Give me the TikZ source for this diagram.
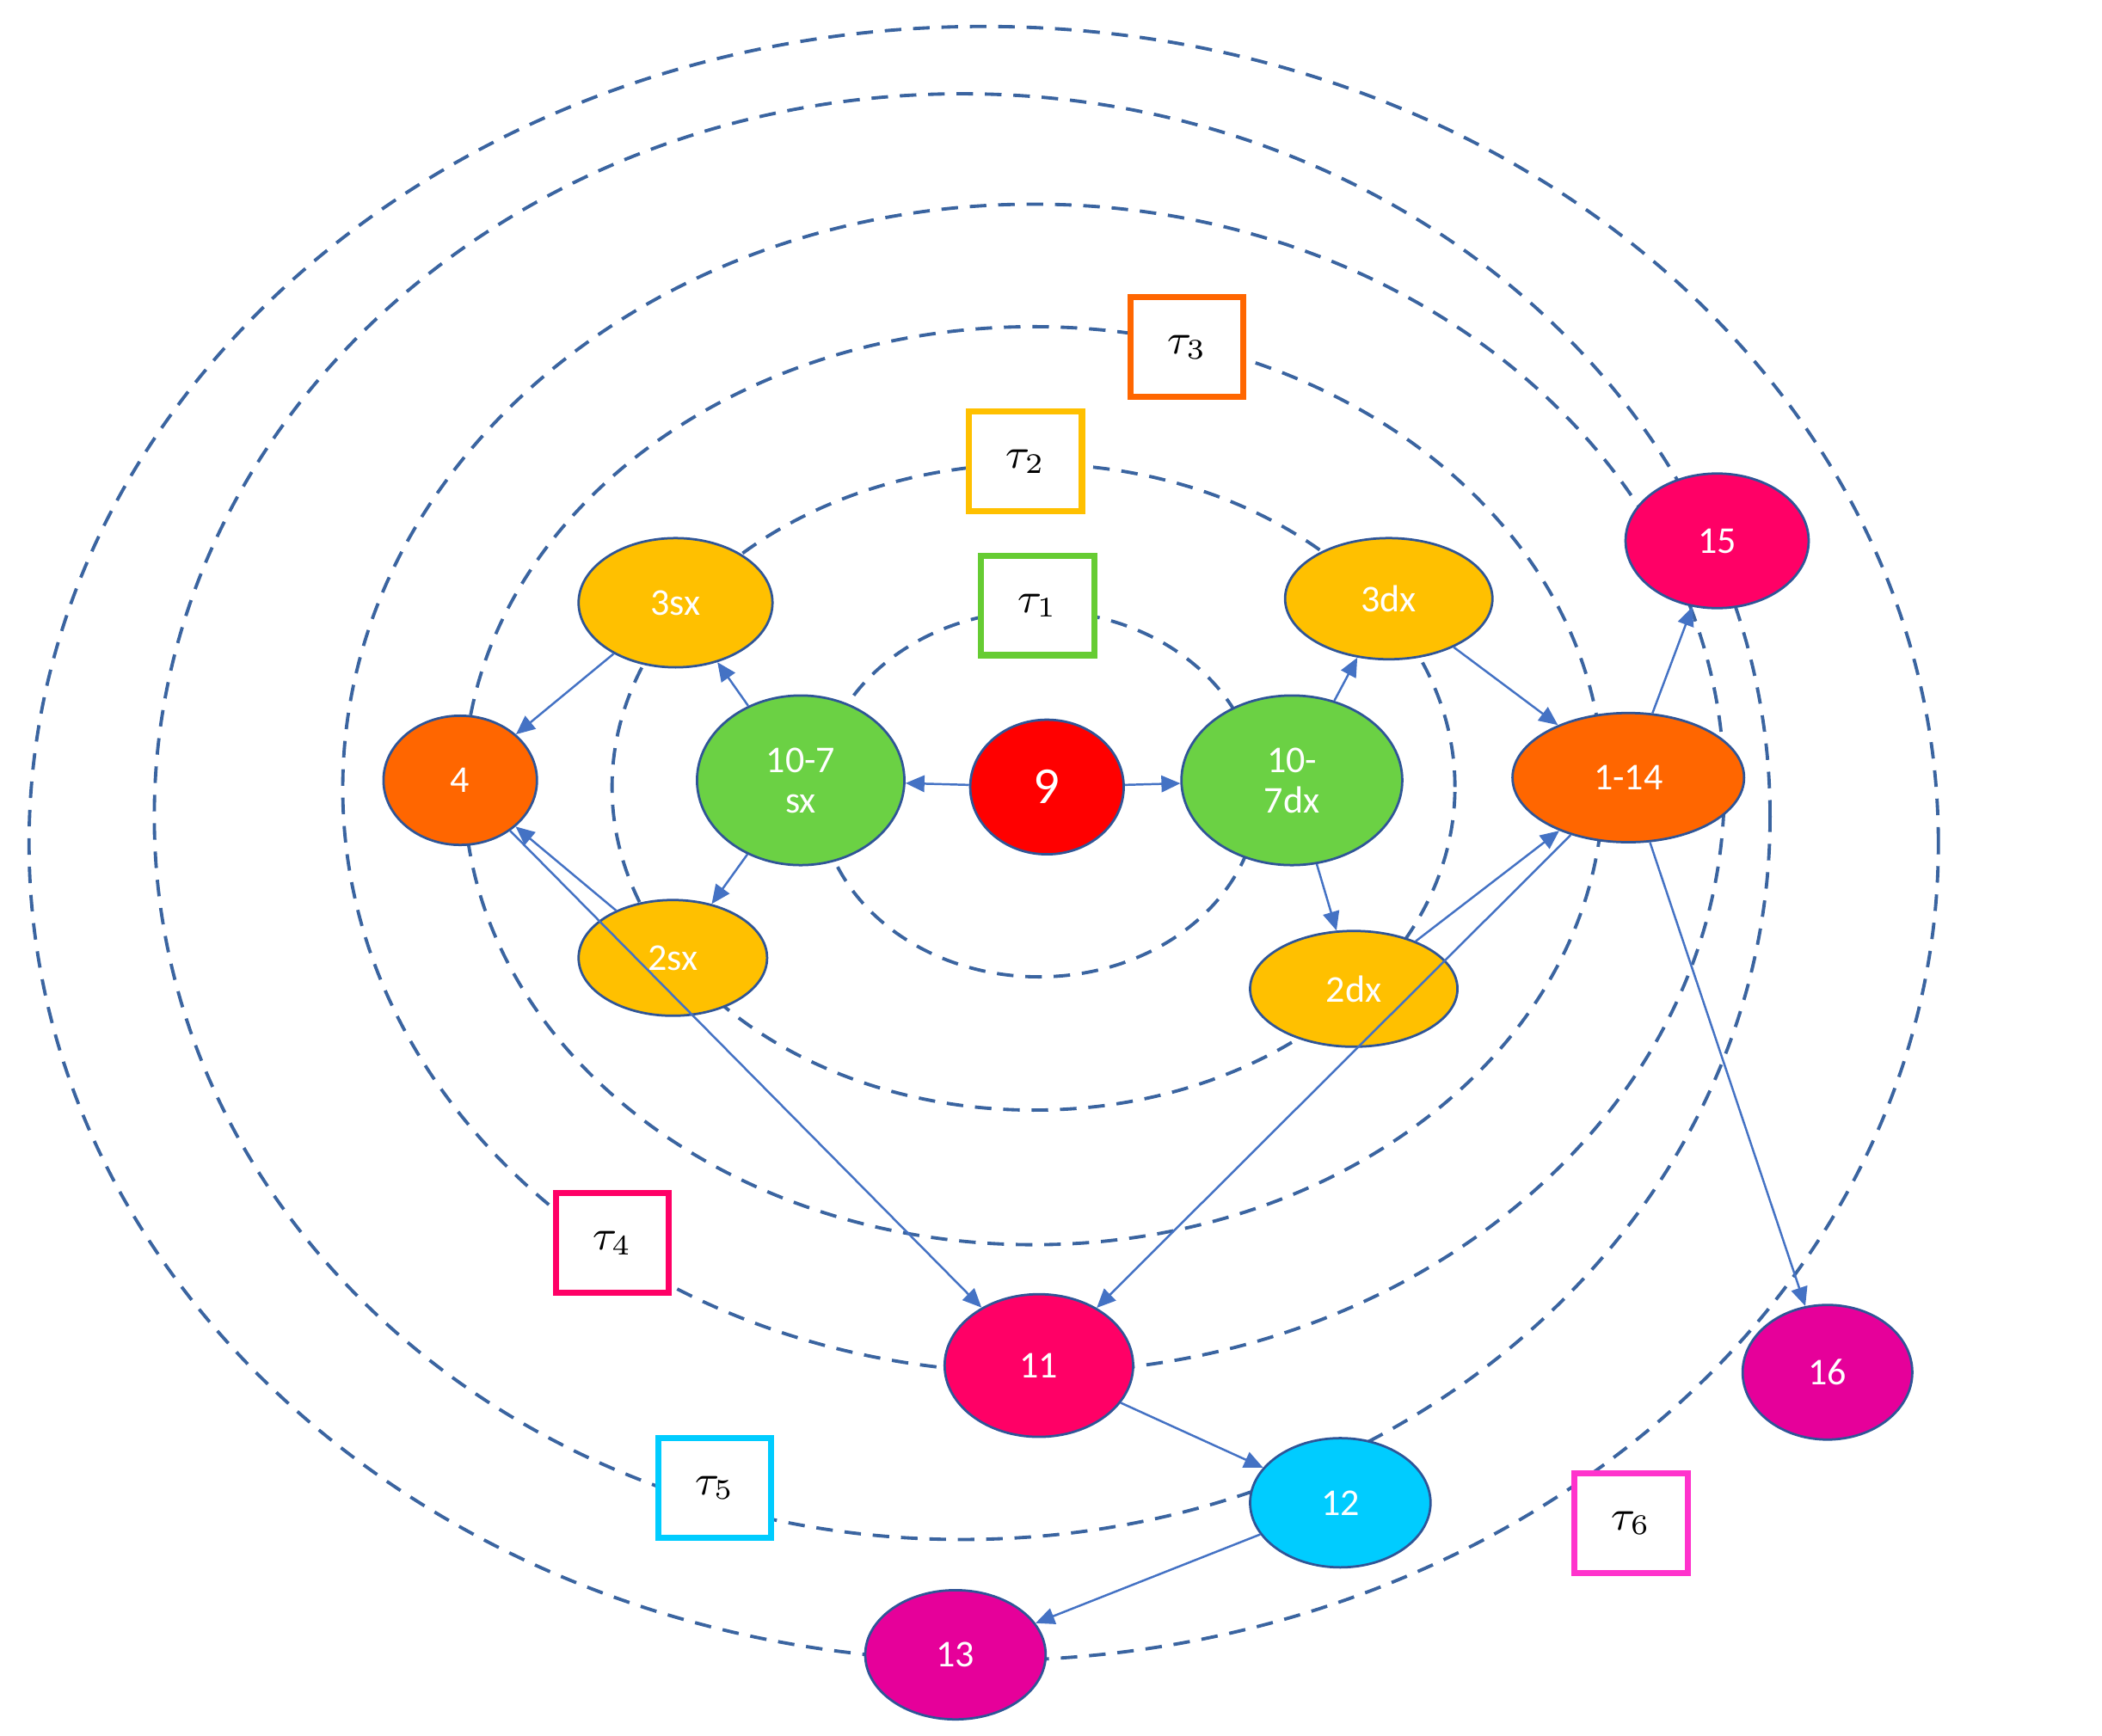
\documentclass[tikz,border=0pt]{standalone}
\usepackage{fontspec}
\setmainfont{Carlito}
\usetikzlibrary{shapes.geometric,arrows.meta}
\definecolor{dl}{HTML}{3A64A0}
\definecolor{ar}{HTML}{4472C4}
\definecolor{bd}{HTML}{2F5597}
\definecolor{cgr}{RGB}{107,209,68}
\definecolor{cye}{RGB}{255,192,0}
\definecolor{cor}{RGB}{255,102,0}
\definecolor{cpk}{RGB}{255,0,102}
\definecolor{ccy}{RGB}{0,204,255}
\definecolor{cmg}{RGB}{230,0,154}
\definecolor{cg1}{RGB}{102,204,51}
\definecolor{cm6}{RGB}{255,51,204}
\begin{document}
\begin{tikzpicture}[x=0.01cm,y=-0.01cm,
 dsh/.style={draw=dl,line width=0.7pt,dash pattern=on 3.5pt off 2.5pt},
 nd/.style={ellipse,draw=bd,line width=0.5pt,text=white,inner sep=0pt,align=center,font=\fontsize{8}{8.5}\selectfont},
 bx/.style={draw=#1,line width=1.3pt,fill=white,minimum width=0.84cm,minimum height=0.74cm,font=\fontsize{9}{10}\selectfont},
 ar/.style={draw=ar,line width=0.45pt,-{Triangle[length=4pt,width=3.5pt]}}]
\useasboundingbox (0,0) rectangle (1562,1290);
% dashed orbits
\draw[dsh] (772,590) ellipse [x radius=1.63cm,y radius=1.36cm];
\draw[dsh] (768,585) ellipse [x radius=3.13cm,y radius=2.4cm];
\draw[dsh] (768,584) ellipse [x radius=4.23cm,y radius=3.41cm];
\draw[dsh] (768,586) ellipse [x radius=5.13cm,y radius=4.34cm];
\draw[dsh] (715,607) ellipse [x radius=6.0cm,y radius=5.37cm];
\draw[dsh] (731,627) ellipse [x radius=7.09cm,y radius=6.07cm];
% nodes
\node[nd,fill=red,minimum width=1.14cm,minimum height=1.0cm,font=\fontsize{11}{12}\selectfont] (n9) at (778,585) {9};
\node[nd,fill=cgr,minimum width=1.54cm,minimum height=1.26cm] (sx) at (595,580) {10-7\\sx};
\node[nd,fill=cgr,minimum width=1.64cm,minimum height=1.26cm] (dx) at (960,580) {10-\\7dx};
\node[nd,fill=cye,minimum width=1.44cm,minimum height=0.96cm] (s3) at (502,448) {3sx};
\node[nd,fill=cye,minimum width=1.4cm,minimum height=0.86cm] (s2) at (500,712) {2sx};
\node[nd,fill=cye,minimum width=1.54cm,minimum height=0.9cm] (d3) at (1032,445) {3dx};
\node[nd,fill=cye,minimum width=1.54cm,minimum height=0.86cm] (d2) at (1006,735) {2dx};
\node[nd,fill=cor,minimum width=1.14cm,minimum height=0.96cm] (n4) at (342,580) {4};
\node[nd,fill=cor,minimum width=1.72cm,minimum height=0.96cm] (n114) at (1210,578) {1-14};
\node[nd,fill=cpk,minimum width=1.36cm,minimum height=1.0cm] (n15) at (1276,402) {15};
\node[nd,fill=cpk,minimum width=1.4cm,minimum height=1.06cm] (n11) at (772,1015) {11};
\node[nd,fill=ccy,minimum width=1.34cm,minimum height=0.96cm] (n12) at (996,1117) {12};
\node[nd,fill=cmg,minimum width=1.34cm,minimum height=0.96cm] (n13) at (710,1230) {13};
\node[nd,fill=cmg,minimum width=1.26cm,minimum height=1.0cm] (n16) at (1358,1020) {16};
% boxes
\node[bx=cg1] (t1) at (771,450) {$\tau_1$};
\node[bx=cye] (t2) at (762,343) {$\tau_2$};
\node[bx=cor] (t3) at (882,258) {$\tau_3$};
\node[bx=cpk] (t4) at (455,924) {$\tau_4$};
\node[bx=ccy] (t5) at (531,1106) {$\tau_5$};
\node[bx=cm6] (t6) at (1212,1132) {$\tau_6$};
% arrows
\draw[ar] (n9) -- (sx);
\draw[ar] (n9) -- (dx);
\draw[ar] (sx) -- (s3);
\draw[ar] (sx) -- (s2);
\draw[ar] (s3) -- (n4);
\draw[ar] (s2) -- (n4);
\draw[ar] (dx) -- (d3);
\draw[ar] (dx) -- (d2);
\draw[ar] (d3) -- (n114);
\draw[ar] (d2) -- (n114);
\draw[ar] (n114) -- (n15);
\draw[ar] (n114) -- (n16);
\draw[ar] (n114) -- (n11);
\draw[ar] (n4) -- (n11);
\draw[ar] (n11) -- (n12);
\draw[ar] (n12) -- (n13);
\end{tikzpicture}
\end{document}
